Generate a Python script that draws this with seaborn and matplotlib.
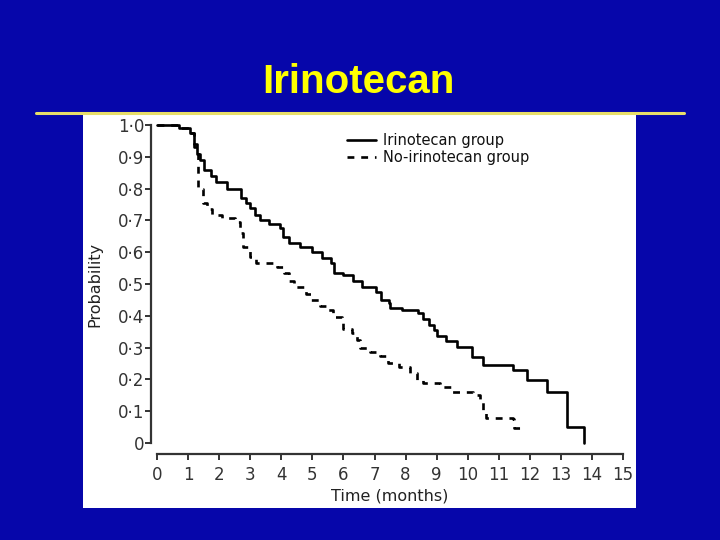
import numpy as np
import pandas as pd
import matplotlib
matplotlib.use("Agg")
import matplotlib.pyplot as plt
import seaborn as sns
from matplotlib.patches import Rectangle
from matplotlib.lines import Line2D

# ---- data ----
iri_time = [0, 0.7, 1.05, 1.2, 1.3, 1.38, 1.5, 1.75, 1.9, 2.25, 2.7, 2.85, 3.0, 3.15, 3.3,
            3.6, 3.95, 4.05, 4.25, 4.6, 5.0, 5.3, 5.6, 5.7, 6.0, 6.3, 6.6, 7.05, 7.2, 7.45,
            7.5, 7.9, 8.4, 8.55, 8.75, 8.9, 9.0, 9.3, 9.65, 10.15, 10.5, 11.45, 11.9, 12.55,
            13.2, 13.75]
iri_prob = [1.0, 0.99, 0.975, 0.94, 0.91, 0.89, 0.86, 0.84, 0.82, 0.80, 0.77, 0.755, 0.74,
            0.717, 0.70, 0.69, 0.676, 0.648, 0.63, 0.617, 0.60, 0.583, 0.566, 0.535, 0.527,
            0.51, 0.49, 0.475, 0.45, 0.44, 0.425, 0.418, 0.41, 0.39, 0.37, 0.355, 0.335,
            0.32, 0.303, 0.27, 0.245, 0.23, 0.198, 0.16, 0.05, 0.0]

non_time = [0, 0.7, 1.05, 1.2, 1.32, 1.48, 1.6, 1.77, 2.1, 2.5, 2.67, 2.77, 3.0, 3.2, 3.85,
            4.1, 4.25, 4.4, 4.8, 4.95, 5.25, 5.5, 5.65, 5.95, 6.0, 6.27, 6.45, 6.53, 6.85,
            7.18, 7.44, 7.8, 8.14, 8.37, 8.56, 9.1, 9.5, 10.17, 10.4, 10.5, 10.6, 11.45,
            11.5, 11.85]
non_prob = [1.0, 0.99, 0.975, 0.93, 0.80, 0.755, 0.735, 0.717, 0.707, 0.695, 0.66, 0.615,
            0.585, 0.566, 0.553, 0.535, 0.51, 0.49, 0.47, 0.45, 0.43, 0.418, 0.396, 0.38,
            0.36, 0.346, 0.324, 0.30, 0.286, 0.274, 0.25, 0.24, 0.22, 0.198, 0.189, 0.176,
            0.16, 0.15, 0.135, 0.104, 0.08, 0.075, 0.047, 0.047]

groups = ["Irinotecan group", "No-irinotecan group"]
x_ticks = list(range(0, 16))
y_ticks = [0, 0.1, 0.2, 0.3, 0.4, 0.5, 0.6, 0.7, 0.8, 0.9, 1.0]
y_tick_labels = ["0", "0·1", "0·2", "0·3", "0·4", "0·5", "0·6", "0·7", "0·8", "0·9", "1·0"]
title = "Irinotecan"

df = pd.concat([
    pd.DataFrame({"time": iri_time, "prob": iri_prob, "group": groups[0]}),
    pd.DataFrame({"time": non_time, "prob": non_prob, "group": groups[1]}),
], ignore_index=True)

# ---- style ----
sns.set_style("ticks")
plt.rcParams["font.family"] = ["DejaVu Sans"]

BLUE = "#0606AA"
fig = plt.figure(figsize=(7.2, 5.4), dpi=100)
fig.patch.set_facecolor(BLUE)

# white panel
panel = Rectangle((83 / 720, 32 / 540), 553 / 720, 393 / 540,
                  transform=fig.transFigure, facecolor="white",
                  edgecolor="none", zorder=-10)
fig.add_artist(panel)
# yellow rule
fig.add_artist(Line2D([36 / 720, 684 / 720], [1 - 113 / 540, 1 - 113 / 540],
                      transform=fig.transFigure, color="#E8DE6A", lw=2.2, zorder=-5))
# title
fig.text(358 / 720, 1 - 93 / 540, title, color="#FFFF00", fontsize=29,
         fontweight="bold", family="Liberation Sans", ha="center", va="baseline")

ax = fig.add_axes([151 / 720, (540 - 454) / 540, 474 / 720, 332 / 540])
ax.set_zorder(5)
ax.set_facecolor("none")
ax.patch.set_visible(False)

sns.lineplot(data=df, x="time", y="prob", hue="group", style="group",
             palette=["black", "black"],
             dashes={groups[0]: "", groups[1]: (2.6, 2.6)},
             drawstyle="steps-post", estimator=None, sort=False,
             lw=1.9, ax=ax)

ax.set_xlim(-0.193, 15.06)
ax.set_ylim(-0.0346, 1.0094)
ax.set_xticks(x_ticks)
ax.set_xticklabels([str(t) for t in x_ticks])
ax.set_yticks(y_ticks)
ax.set_yticklabels(y_tick_labels)

for s in ["top", "right"]:
    ax.spines[s].set_visible(False)
ax.spines["left"].set_bounds(0, 1.0)
ax.spines["bottom"].set_bounds(0, 15)
for s in ["left", "bottom"]:
    ax.spines[s].set_color("#333333")
    ax.spines[s].set_linewidth(1.6)

ax.tick_params(axis="x", length=4.5, width=1.4, pad=4, labelsize=12,
               colors="#333333")
ax.tick_params(axis="y", length=4, width=1.4, pad=1, labelsize=12,
               colors="#333333")

ax.set_xlabel("Time (months)", fontsize=11.5, color="#222222")
ax.xaxis.set_label_coords(0.504, -0.105)
ax.set_ylabel("Probability", fontsize=11.5, color="#222222")
ax.yaxis.set_label_coords(-0.102, 0.51)

handles, labels = ax.get_legend_handles_labels()
leg = ax.legend(handles, labels, loc="upper left",
                bbox_to_anchor=(347 / 720, 1 - 133 / 540),
                bbox_transform=fig.transFigure, frameon=False,
                fontsize=10.5, handlelength=2.0, handletextpad=0.5,
                labelspacing=0.15, borderpad=0, borderaxespad=0)
for t in leg.get_texts():
    t.set_color("#111111")

fig.savefig("out.png", dpi=100, facecolor=fig.get_facecolor())
